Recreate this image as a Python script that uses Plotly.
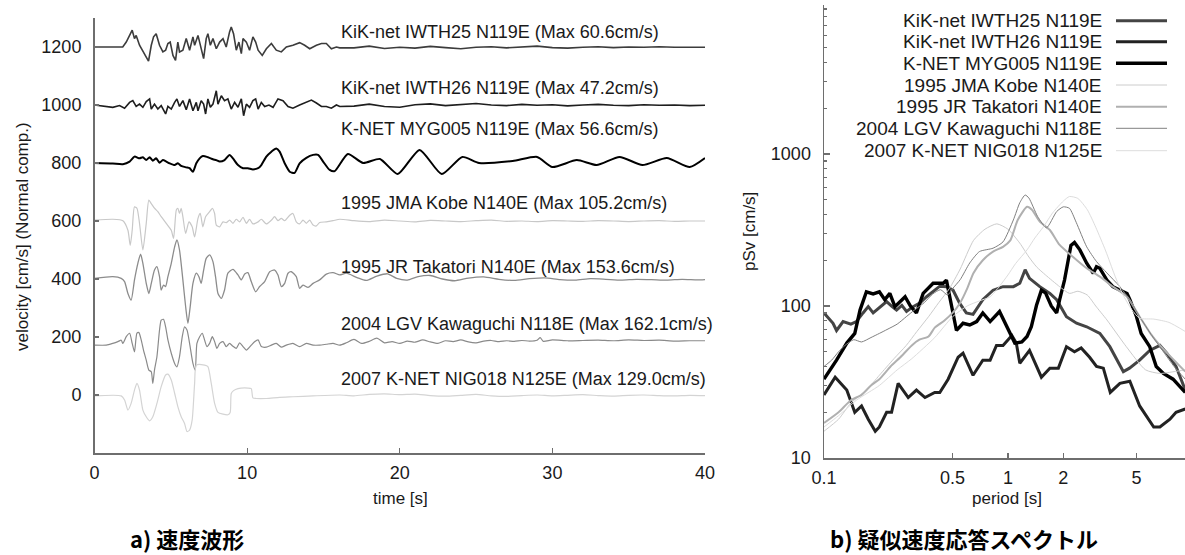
import plotly.graph_objects as go

# ---------------- data: velocity waveforms (time [s], velocity offset [cm/s]) ----------------
names = ["KiK-net IWTH25 N119E", "KiK-net IWTH26 N119E", "K-NET MYG005 N119E",
         "1995 JMA Kobe N140E", "1995 JR Takatori N140E", "2004 LGV Kawaguchi N118E",
         "2007 K-NET NIG018 N125E"]
max_vel = ["60.6", "47.2", "56.6", "105.2", "153.6", "162.1", "129.0"]
label_y = [1253, 1058, 917, 662, 441, 245, 55]
label_t = 16.0

t_iwth25 = [0, 1.85, 2.08, 2.3, 2.47, 2.62, 2.73, 2.95, 3.17, 3.39, 3.54, 3.72, 3.87, 4.04, 4.26, 4.48, 4.66,
            4.81, 4.96, 5.14, 5.31, 5.46, 5.57, 5.79, 6.01, 6.23, 6.45, 6.56, 6.78, 6.99, 7.15, 7.32, 7.43, 7.59,
            7.76, 7.98, 8.2, 8.42, 8.63, 8.85, 8.96, 9.11, 9.29, 9.46, 9.62, 9.73, 9.95, 10.16, 10.38, 10.56,
            10.72, 10.99, 11.26, 11.59, 11.91, 12.24, 12.57, 13.0, 13.44, 13.77, 14.1, 14.54, 14.87, 15.19,
            15.52, 15.85, 16.07,
            17, 18, 19, 20, 21, 22, 23, 24, 25, 26, 27, 28, 29, 30, 31, 32, 33, 34, 35, 36, 37, 38, 39, 40]
v_iwth25 = [1200, 1200, 1217, 1240, 1258, 1229, 1240, 1206, 1183, 1165, 1151, 1206, 1235, 1246, 1206, 1183, 1189,
            1212, 1217, 1171, 1154, 1217, 1183, 1189, 1229, 1189, 1235, 1206, 1240, 1189, 1160, 1229, 1246, 1206,
            1229, 1194, 1217, 1229, 1200, 1252, 1269, 1246, 1189, 1217, 1177, 1229, 1217, 1189, 1235, 1217,
            1189, 1171, 1194, 1212, 1189, 1183, 1200, 1206, 1215, 1206, 1194, 1206, 1212, 1212,
            1194, 1200, 1197,
            1197, 1203, 1195, 1199, 1196, 1202, 1198, 1194, 1199, 1201, 1197, 1200, 1203, 1198, 1196, 1199,
            1201, 1198, 1200, 1199, 1201, 1199, 1200, 1199]

t_iwth26 = [0.0, 0.77, 1.20, 1.64, 1.97, 2.30, 2.51, 2.73, 2.95, 3.17, 3.39, 3.61, 3.72, 3.93, 4.15, 4.37, 4.66,
            4.81, 5.03, 5.25, 5.40, 5.57, 5.79, 6.01, 6.23, 6.45, 6.67, 6.78, 6.99, 7.15, 7.28, 7.43, 7.59, 7.76,
            7.87, 7.98, 8.09, 8.31, 8.52, 8.74, 8.96, 9.18, 9.40, 9.62, 9.77, 9.95, 10.16, 10.38, 10.56, 10.72,
            10.93, 11.15, 11.43, 11.70, 12.02, 12.35, 12.68, 13.0, 13.44, 13.88, 14.21, 14.54, 14.87, 15.19,
            15.52, 15.85, 16.07,
            17, 18, 19, 20, 21, 22, 23, 24, 25, 26, 27, 28, 29, 30, 31, 32, 33, 34, 35, 36, 37, 38, 39, 40]
v_iwth26 = [1000, 995, 992, 998, 989, 1009, 1015, 995, 1003, 992, 1012, 1021, 986, 1003, 986, 998, 969,
            995, 986, 1009, 1021, 995, 1015, 984, 1021, 980, 1009, 980, 1015, 1003, 969, 1021, 992, 1003,
            1032, 1049, 1003, 1032, 1015, 1021, 986, 1009, 992, 1021, 963, 1003, 992, 1015, 1021, 986,
            1009, 995, 1000, 992, 1021, 1015, 995, 989, 1000, 1009, 1017, 1007, 995, 995,
            989, 1000, 995,
            996, 1003, 995, 992, 1001, 1004, 998, 1002, 1005, 1000, 998, 1002, 999, 1001, 997, 1000,
            1002, 999, 998, 1001, 999, 1000, 998, 999]

t_myg005 = [0, 1.2, 1.86, 2.3, 2.62, 2.95, 3.17, 3.39, 3.61, 3.82, 4.04, 4.26, 4.48, 4.70, 4.92, 5.25, 5.46,
            5.68, 6.01, 6.23, 6.45, 6.67, 6.89, 7.1, 7.43, 7.76, 7.98, 8.2, 8.52, 8.85, 9.07, 9.4, 9.73, 10.05,
            10.38, 10.72, 10.93, 11.26, 11.59, 11.91, 12.13, 12.46, 12.79, 13.11, 13.44, 13.88, 14.32, 14.65,
            14.98, 15.41, 15.74, 16.6, 17.6, 18.7, 19.87, 21.3, 22.75, 24.1, 25.2, 27.4, 29.0, 30.0, 31.6,
            32.9, 34.4, 35.9, 37.5, 39.0, 40]
v_myg005 = [800, 798, 796, 805, 822, 816, 820, 810, 820, 808, 816, 801, 810, 805, 799, 793, 799,
            790, 785, 782, 770, 799, 816, 824, 820, 813, 810, 805, 810, 828, 816, 793, 782, 782,
            778, 782, 793, 822, 839, 850, 839, 799, 770, 766, 799, 818, 828, 828,
            805, 776, 772, 831, 800, 814, 762, 845, 762, 821, 800, 807, 821, 786, 810,
            793, 821, 793, 817, 786, 817]

t_kobe = [0, 1.20, 1.86, 2.19, 2.34, 2.47, 2.62, 2.78, 2.95, 3.17, 3.39, 3.56, 3.72, 3.93, 4.15, 4.37, 4.70,
          5.03, 5.18, 5.36, 5.46, 5.57, 5.68, 5.79, 5.97, 6.19, 6.40, 6.56, 6.78, 6.93, 7.10, 7.28, 7.54, 7.72,
          7.87, 7.98, 8.20, 8.42, 8.63, 8.85, 9.07, 9.29, 9.51, 9.73, 9.95, 10.16, 10.38, 10.72, 10.93, 11.26,
          11.59, 11.80, 12.02, 12.24, 12.46, 12.79, 13.0, 13.22, 13.44, 13.66, 13.88, 14.1, 14.32, 14.54,
          14.75, 15.19, 15.63, 16.07,
          17, 18, 19, 20, 21, 22, 23, 24, 25, 26, 27, 28, 29, 30, 31, 32, 33, 34, 35, 36, 37, 38, 39, 40]
v_kobe = [603, 606, 601, 568, 516, 568, 649, 644, 592, 500, 592, 672, 660, 644, 632, 615, 592,
          568, 540, 638, 644, 626, 644, 615, 557, 597, 580, 545, 609, 626, 580, 615, 632, 644,
          626, 586, 580, 597, 594, 603, 592, 606, 597, 613, 592, 606, 590, 597, 606, 590,
          603, 615, 601, 609, 601, 620, 626, 597, 590, 603, 592, 603, 586, 583,
          595, 597, 601, 606,
          601, 598, 603, 600, 597, 602, 600, 598, 601, 603, 599, 600, 598, 601, 600, 599,
          601, 600, 598, 600, 601, 599, 600, 600]

t_takatori = [0, 1.20, 1.75, 1.97, 2.19, 2.40, 2.62, 2.84, 3.02, 3.17, 3.39, 3.56, 3.72, 3.93, 4.09, 4.26, 4.37,
              4.52, 4.66, 4.81, 5.03, 5.25, 5.40, 5.57, 5.79, 5.97, 6.12, 6.27, 6.45, 6.67, 6.84, 6.99, 7.15,
              7.32, 7.54, 7.76, 7.93, 8.09, 8.31, 8.52, 8.74, 9.07, 9.40, 9.62, 9.84, 10.05, 10.27, 10.56,
              10.82, 11.15, 11.48, 11.80, 12.02, 12.24, 12.46, 12.68, 12.90, 13.22, 13.44, 13.66, 13.99,
              14.32, 14.75, 15.19, 15.63, 16.07,
              16.5, 17.2, 17.8, 18.5, 19.2, 19.8, 20.5, 21.2, 22, 22.8, 23.6, 24.5, 25.5, 26.5, 27.5, 28.5,
              29.5, 30.5, 31.5, 32.5, 33.5, 34.5, 35.5, 36.5, 37.5, 38.5, 39.5, 40]
v_takatori = [402, 408, 402, 391, 350, 327, 397, 454, 486, 454, 385, 350, 385, 431, 443, 408, 362,
              379, 374, 408, 454, 511, 535, 500, 397, 305, 247, 305, 385, 420, 408, 385, 431,
              471, 483, 460, 408, 350, 333, 362, 420, 433, 414, 397, 417, 422, 391, 356,
              374, 391, 425, 431, 414, 374, 385, 420, 425, 408, 368, 379, 371,
              385, 397, 417, 422, 414,
              420, 405, 395, 410, 418, 402, 396, 408, 412, 400, 394, 403, 407, 399, 395, 401,
              404, 398, 396, 401, 399, 396, 399, 398, 396, 399, 397, 398]

t_kawaguchi = [0, 0.77, 1.2, 1.53, 1.75, 1.86, 2.08, 2.30, 2.47, 2.62, 2.78, 2.91, 3.06, 3.21, 3.39, 3.56, 3.72,
               3.82, 3.93, 4.09, 4.26, 4.37, 4.52, 4.66, 4.81, 5.03, 5.25, 5.40, 5.57, 5.75, 5.90, 6.06, 6.23,
               6.45, 6.60, 6.71, 6.89, 7.06, 7.21, 7.37, 7.54, 7.72, 7.87, 8.02, 8.20, 8.42, 8.63, 8.85, 9.07,
               9.29, 9.51, 9.73, 9.95, 10.27, 10.49, 10.72, 10.93, 11.26, 11.59, 11.91, 12.24, 12.57, 13.0,
               13.44, 13.88, 14.32, 14.75, 15.19, 15.63, 16.07,
               16.5, 17, 17.5, 18, 18.5, 19, 19.5, 20, 20.5, 21, 21.5, 22, 22.5, 23, 23.5, 24, 24.5, 25, 25.5,
               26, 26.5, 27, 27.5, 28, 28.5, 29, 29.2, 29.4, 30, 31, 32, 33, 34, 35, 36, 37, 38, 39, 40]
v_kawaguchi = [172, 172, 178, 184, 189, 178, 201, 213, 178, 149, 213, 215, 190, 155, 120, 86, 80,
               40, 86, 132, 224, 258, 261, 235, 190, 144, 109, 97, 132, 201, 235, 224, 178,
               109, 86, 178, 201, 213, 190, 167, 178, 201, 184, 161, 178, 184, 167, 178, 168,
               161, 180, 167, 155, 172, 184, 190, 167, 165, 172, 178, 165, 172, 178,
               167, 178, 172, 172, 175, 178, 172,
               180, 192, 178, 185, 196, 180, 184, 178, 186, 182, 190, 183, 178, 187, 184, 190, 183, 180, 186,
               188, 184, 187, 185, 188, 186, 189, 198, 185, 190, 187, 188, 189, 187, 190, 188, 189, 186, 187, 187]

t_nig018 = [0, 1.75, 1.97, 2.19, 2.40, 2.62, 2.78, 2.95, 3.17, 3.39, 3.61, 3.82, 4.09, 4.37, 4.66, 4.81, 5.03,
            5.25, 5.46, 5.68, 5.90, 6.06, 6.23, 6.40, 6.56, 6.67, 7.21, 7.43, 7.65, 7.87, 8.09, 8.42, 8.74,
            8.89, 8.96, 9.11, 9.40, 10.05, 10.27, 10.38, 10.60, 11.26, 12.13, 13.0, 14.32, 16.07,
            17, 18, 19, 20, 21, 22, 23, 24, 25, 26, 27, 28, 29, 30, 31, 32, 33, 34, 35, 36, 37, 38, 39, 40]
v_nig018 = [-3, -3, -17, -52, -29, 17, 40, 17, -52, -75, -89, -75, -29, 29, 69, 72, 52,
            6, -40, -75, -98, -126, -121, -86, 40, 103, 103, 98, 40, -29, -60, -66, -68,
            -60, 5, 15, 22, 24, 22, -10, -12, -12, -8, -6, -3, 0,
            -3, 2, 4, 1, 3, -2, -4, -1, 2, -3, -5, -2, 0, -3, -1, 1, -2, -4, -1, 0, -2, -3, -1, -2]

# ---------------- data: pseudo velocity response spectra (period [s], pSv [cm/s]) ----------------
T_iwth25 = [0.1, 0.112, 0.117, 0.127, 0.14, 0.15, 0.163, 0.174, 0.185, 0.2, 0.219, 0.233, 0.248, 0.265, 0.281,
            0.305, 0.333, 0.361, 0.392, 0.426, 0.463, 0.503, 0.547, 0.594, 0.646, 0.676, 0.73, 0.83, 0.94, 1.07,
            1.16, 1.24, 1.31, 1.49, 1.69, 1.84, 2.08, 2.36, 2.68, 3.16, 3.58, 4.24, 4.58, 5.2, 5.9, 6.7, 7.3,
            8.2, 9.2]
S_iwth25 = [90, 77, 69, 79, 76, 79, 90, 99, 90, 97, 107, 100, 94, 101, 92,
            99, 105, 115, 125, 135, 134, 127, 104, 90, 88, 95, 110, 127, 134, 134,
            141, 173, 152, 134, 121, 110, 85, 77, 73, 66, 54, 37, 39, 44, 51, 55, 49,
            40, 28]

T_iwth26 = [0.1, 0.115, 0.133, 0.147, 0.16, 0.174, 0.19, 0.2, 0.219, 0.233, 0.253, 0.287, 0.318, 0.354, 0.4,
            0.426, 0.473, 0.536, 0.57, 0.646, 0.73, 0.8, 0.866, 0.94, 1.05, 1.11, 1.16, 1.31, 1.52, 1.69,
            1.88, 2.08, 2.3, 2.5, 2.78, 3.03, 3.3, 3.6, 4.06, 4.6, 5.2, 6.2, 6.7, 7.6, 8.2, 9.2]
S_iwth26 = [26, 34, 28, 20, 22, 18, 15, 16, 20, 20, 31, 25, 28, 25, 27,
            27, 33, 46, 49, 35, 44, 44, 55, 55, 64, 57, 42, 51, 34, 39,
            39, 54, 50, 53, 46, 40, 39, 27, 31, 32, 22, 16, 16, 18, 20, 21]

T_myg005 = [0.1, 0.117, 0.133, 0.147, 0.157, 0.17, 0.185, 0.2, 0.214, 0.228, 0.243, 0.26, 0.276, 0.295, 0.318,
            0.346, 0.392, 0.445, 0.463, 0.525, 0.57, 0.62, 0.676, 0.73, 0.8, 0.9, 1.02, 1.09, 1.19, 1.27,
            1.34, 1.43, 1.52, 1.6, 1.72, 1.84, 1.91, 2.03, 2.2, 2.3, 2.46, 2.68, 2.91, 3.03, 3.16, 3.45,
            3.72, 4.06, 4.44, 4.6, 5.0, 5.3, 5.9, 6.4, 7.0, 7.9, 9.2]
S_myg005 = [33, 44, 57, 66, 94, 124, 120, 124, 110, 121, 99, 108, 115, 100, 90,
            121, 141, 141, 148, 69, 77, 75, 79, 90, 79, 92, 66, 57, 58, 63,
            73, 101, 127, 122, 100, 90, 110, 148, 250, 262, 234, 191, 164, 181, 177, 148,
            134, 127, 121, 110, 85, 66, 54, 40, 36, 33, 27]

T_kobe = [0.1, 0.12, 0.14, 0.17, 0.2, 0.24, 0.28, 0.32, 0.37, 0.42, 0.48, 0.55, 0.65, 0.75, 0.87, 1.0, 1.16,
          1.3, 1.43, 1.6, 1.91, 2.16, 2.4, 2.7, 3.0, 3.45, 4.4, 5.6, 6.7, 8.0, 9.2]
S_kobe = [15, 18, 23, 28, 35, 45, 55, 68, 85, 105, 130, 175, 270, 320, 347, 320, 259,
          210, 181, 160, 134, 121, 125, 118, 100, 81, 54, 38, 36, 37, 38]

T_takatori = [0.1, 0.12, 0.14, 0.16, 0.18, 0.2, 0.23, 0.26, 0.3, 0.33, 0.37, 0.4, 0.45, 0.5, 0.55, 0.6, 0.65,
              0.73, 0.83, 0.94, 1.03, 1.13, 1.27, 1.35, 1.49, 1.69, 1.91, 2.26, 2.68, 3.16, 3.72, 4.44, 5.2,
              6.0, 6.7, 8.0, 9.2]
S_takatori = [17, 20, 24, 26, 30, 33, 40, 46, 55, 60, 63, 72, 80, 90, 105, 130, 165,
              200, 228, 245, 270, 368, 449, 430, 359, 316, 252, 210, 177, 156, 134, 115, 85,
              65, 55, 44, 37]

T_kawaguchi = [0.1, 0.11, 0.12, 0.13, 0.145, 0.16, 0.18, 0.2, 0.22, 0.25, 0.28, 0.31, 0.35, 0.39, 0.43, 0.47,
               0.5, 0.55, 0.62, 0.7, 0.83, 0.94, 1.07, 1.16, 1.24, 1.3, 1.45, 1.62, 1.84, 2.0, 2.16, 2.35,
               2.68, 3.03, 3.45, 4.06, 4.6, 5.2, 6.0, 7.0, 8.0, 9.2]
S_kawaguchi = [40, 44, 50, 55, 60, 58, 62, 66, 70, 76, 85, 94, 105, 120, 128, 118,
               130, 149, 192, 228, 240, 264, 368, 478, 537, 513, 388, 327, 418, 449, 439, 355,
               245, 196, 165, 134, 109, 85, 65, 50, 40, 33]

T_nig018 = [0.1, 0.12, 0.15, 0.2, 0.25, 0.3, 0.4, 0.5, 0.6, 0.7, 0.8, 0.9, 1.0, 1.1, 1.27, 1.4, 1.56, 1.75,
            2.0, 2.16, 2.4, 2.7, 3.0, 3.4, 3.8, 4.2, 4.7, 5.2, 6.2, 7.5, 9.2]
S_nig018 = [16, 19, 24, 30, 38, 45, 62, 85, 100, 108, 115, 135, 160, 190, 234, 280, 332, 410,
            490, 525, 510, 430, 330, 230, 160, 120, 95, 83, 82, 78, 68]

wave_t = [t_iwth25, t_iwth26, t_myg005, t_kobe, t_takatori, t_kawaguchi, t_nig018]
wave_v = [v_iwth25, v_iwth26, v_myg005, v_kobe, v_takatori, v_kawaguchi, v_nig018]
spec_T = [T_iwth25, T_iwth26, T_myg005, T_kobe, T_takatori, T_kawaguchi, T_nig018]
spec_S = [S_iwth25, S_iwth26, S_myg005, S_kobe, S_takatori, S_kawaguchi, S_nig018]

# ---------------- styles ----------------
wave_color = ["#3c3c3c", "#1e1e1e", "#000000", "#c8c8c8", "#8c8c8c", "#8a8a8a", "#d4d4d4"]
wave_width = [1.6, 1.6, 2.0, 1.2, 1.3, 1.2, 1.2]
wave_shape = ["linear", "linear", "spline", "spline", "spline", "spline", "spline"]
spec_color = ["#444444", "#222222", "#000000", "#cccccc", "#b0b0b0", "#808080", "#dddddd"]
spec_width = [3.0, 3.0, 3.4, 1.0, 2.0, 1.0, 1.0]
spec_shape = ["linear", "linear", "linear", "spline", "spline", "spline", "spline"]

W, H = 1185, 555
FONT = "Liberation Sans, Arial, Helvetica, sans-serif"
AX = "#6e6e6e"
TXT = "#1a1a1a"


def px(x):
    return x / W


def py(y):
    return 1 - y / H


fig = go.Figure()

for t, v, c, w, s in zip(wave_t, wave_v, wave_color, wave_width, wave_shape):
    fig.add_trace(go.Scatter(x=t, y=v, mode="lines", line=dict(color=c, width=w, shape=s, smoothing=0.6),
                             xaxis="x", yaxis="y", showlegend=False, hoverinfo="skip"))

for T, S, c, w, s in zip(spec_T, spec_S, spec_color, spec_width, spec_shape):
    fig.add_trace(go.Scatter(x=T, y=S, mode="lines", line=dict(color=c, width=w, shape=s, smoothing=0.6),
                             xaxis="x2", yaxis="y2", showlegend=False, hoverinfo="skip"))

annotations = []
# waveform labels
for name, mv, ly in zip(names, max_vel, label_y):
    annotations.append(dict(x=label_t, y=ly, xref="x", yref="y", xanchor="left", yanchor="middle",
                            text=f"{name} (Max {mv}cm/s)", showarrow=False,
                            font=dict(family=FONT, size=18, color=TXT)))

# custom legend (text left, sample right)
legend_rows = [20.7, 41.7, 63.3, 85, 106.7, 128.3, 150.7]
shapes = []
for name, ry, c, w in zip(names, legend_rows, spec_color, spec_width):
    annotations.append(dict(x=px(1104), y=py(ry), xref="paper", yref="paper", xanchor="right",
                            yanchor="middle", text=name, showarrow=False,
                            font=dict(family=FONT, size=19, color=TXT)))
    shapes.append(dict(type="line", xref="paper", yref="paper", x0=px(1116), x1=px(1167),
                       y0=py(ry), y1=py(ry), line=dict(color=c, width=w)))


def note(x, y, text, size=17, angle=0, family=FONT, color=TXT):
    return dict(x=px(x), y=py(y), xref="paper", yref="paper", xanchor="center", yanchor="middle",
                text=text, textangle=angle, showarrow=False,
                font=dict(family=family, size=size, color=color))


annotations += [
    note(22, 237, "velocity [cm/s] (Normal comp.)", angle=-90),
    note(400, 498, "time [s]"),
    note(750, 232, "pSv [cm/s]", angle=-90),
    note(1007, 498, "period [s]"),
    note(187, 538, "<b>a) 速度波形</b>", size=22, family="Noto Sans CJK JP", color="#000"),
    note(964, 538, "<b>b) 疑似速度応答スペクトル</b>", size=22, family="Noto Sans CJK JP", color="#000"),
]

axis_common = dict(showline=True, linecolor=AX, linewidth=1.5, ticks="inside", tickcolor=AX,
                   tickwidth=1.2, showgrid=False, zeroline=False, automargin=False,
                   tickfont=dict(family=FONT, size=18, color=TXT))

fig.update_layout(
    width=W, height=H, autosize=False,
    margin=dict(l=0, r=0, t=0, b=0, pad=0, autoexpand=False),
    paper_bgcolor="white", plot_bgcolor="white", showlegend=False,
    font=dict(family=FONT, size=17, color=TXT),
    xaxis=dict(domain=[px(94.5), px(705)], range=[0, 40], tickvals=[0, 10, 20, 30, 40],
               ticklen=5, anchor="y", ticklabelstandoff=3, **axis_common),
    yaxis=dict(domain=[py(453), py(18)], range=[-200, 1300],
               tickvals=[0, 200, 400, 600, 800, 1000, 1200], ticklen=4, anchor="x",
               ticklabelstandoff=8, **axis_common),
    xaxis2=dict(type="log", domain=[px(824), 1.0], range=[-1, 0.9625],
                tickvals=[0.1, 0.5, 1, 2, 5], ticktext=["0.1", "0.5", "1", "2", "5"],
                ticklen=5, anchor="y2", ticklabelstandoff=3, **axis_common),
    yaxis2=dict(type="log", domain=[py(458), py(5)], range=[1, 3.98],
                tickvals=[10, 100, 1000], ticktext=["10", "100", "1000"], ticklen=6, anchor="x2",
                ticklabelstandoff=8,
                minor=dict(ticks="inside", ticklen=3, tickcolor=AX,
                           tickvals=[20, 30, 40, 50, 60, 70, 80, 90, 200, 300, 400, 500, 600, 700,
                                     800, 900, 2000, 3000, 4000, 5000, 6000, 7000, 8000, 9000]),
                **axis_common),
    annotations=annotations,
    shapes=shapes,
)

fig.write_html("out.html", config={"displayModeBar": False, "staticPlot": True},
               post_script="document.body.style.margin='0px';document.body.style.overflow='hidden';")
